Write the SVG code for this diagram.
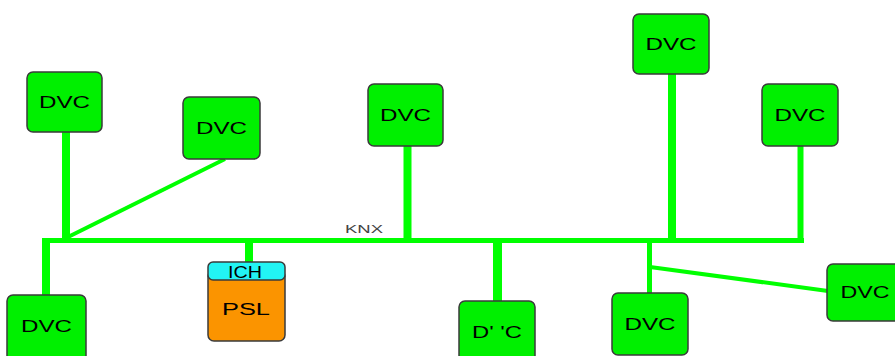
<svg xmlns="http://www.w3.org/2000/svg" width="895" height="356" viewBox="0 0 895 356">
  <style>
    .bus { stroke: #00ff00; fill: none; stroke-linecap: butt; }
    .dev rect { fill: #00f000; stroke: #3a3a3a; stroke-width: 1.5; }
    .lbl { font-family: "Liberation Sans", Arial, sans-serif; font-size: 16px; fill: #000; text-anchor: middle; }
    .psu rect.head { fill: #22f4f4; stroke: #3a3a3a; stroke-width: 1.5; }
    .psu rect.body { fill: #fb9400; stroke: #3a3a3a; stroke-width: 1.5; }
    .knx { font-family: "Liberation Sans", Arial, sans-serif; font-size: 10px; fill: #444; text-anchor: middle; }
  </style>

  <!-- KNX bus line and drops -->
  <g id="connectors">
    <line class="bus" x1="42" y1="240.5" x2="804" y2="240.5" stroke-width="5"/>
    <line class="bus" x1="46" y1="238" x2="46" y2="296" stroke-width="8"/>
    <line class="bus" x1="66" y1="132" x2="66" y2="241" stroke-width="8"/>
    <line class="bus" x1="66" y1="238" x2="225" y2="159" stroke-width="4"/>
    <line class="bus" x1="407.5" y1="146" x2="407.5" y2="241" stroke-width="8"/>
    <line class="bus" x1="672" y1="74" x2="672" y2="241" stroke-width="8"/>
    <line class="bus" x1="800.5" y1="146" x2="800.5" y2="243" stroke-width="6"/>
    <line class="bus" x1="249" y1="240" x2="249" y2="262" stroke-width="8"/>
    <line class="bus" x1="497.5" y1="240" x2="497.5" y2="302" stroke-width="9"/>
    <line class="bus" x1="649.5" y1="240" x2="649.5" y2="294" stroke-width="5"/>
    <line class="bus" x1="650" y1="267" x2="828" y2="291" stroke-width="4"/>
    <text class="knx" x="364" y="233" textLength="38" lengthAdjust="spacingAndGlyphs">KNX</text>
  </g>

  <g id="dvc-top-left" class="dev">
    <rect x="27" y="72" width="75" height="60" rx="6"/>
    <text class="lbl" x="64.5" y="108" textLength="51" lengthAdjust="spacingAndGlyphs">DVC</text>
  </g>
  <g id="dvc-diag" class="dev">
    <rect x="183" y="97" width="77" height="62" rx="6"/>
    <text class="lbl" x="221.5" y="134" textLength="51" lengthAdjust="spacingAndGlyphs">DVC</text>
  </g>
  <g id="dvc-mid" class="dev">
    <rect x="368" y="84" width="75" height="62" rx="6"/>
    <text class="lbl" x="405.5" y="121" textLength="51" lengthAdjust="spacingAndGlyphs">DVC</text>
  </g>
  <g id="dvc-top" class="dev">
    <rect x="633" y="14" width="76" height="60" rx="6"/>
    <text class="lbl" x="671" y="50" textLength="51" lengthAdjust="spacingAndGlyphs">DVC</text>
  </g>
  <g id="dvc-right" class="dev">
    <rect x="762" y="84" width="76" height="62" rx="6"/>
    <text class="lbl" x="800" y="121" textLength="51" lengthAdjust="spacingAndGlyphs">DVC</text>
  </g>
  <g id="dvc-bottom-left" class="dev">
    <rect x="7" y="295" width="79" height="70" rx="6"/>
    <text class="lbl" x="46.5" y="332" textLength="51" lengthAdjust="spacingAndGlyphs">DVC</text>
  </g>
  <g id="psu" class="psu">
    <rect class="body" x="208" y="270" width="77" height="71" rx="6"/>
    <rect class="head" x="208" y="262" width="77" height="18" rx="5"/>
    <text class="lbl" x="245" y="278" font-size="12" textLength="34" lengthAdjust="spacingAndGlyphs">ICH</text>
    <text class="lbl" x="246" y="315" textLength="48" lengthAdjust="spacingAndGlyphs">PSL</text>
  </g>
  <g id="dvc-bottom-mid" class="dev">
    <rect x="459" y="301" width="76" height="70" rx="6"/>
    <text class="lbl" x="497" y="338" textLength="50" lengthAdjust="spacingAndGlyphs">D' 'C</text>
  </g>
  <g id="dvc-bottom" class="dev">
    <rect x="612" y="293" width="76" height="62" rx="6"/>
    <text class="lbl" x="650" y="330" textLength="51" lengthAdjust="spacingAndGlyphs">DVC</text>
  </g>
  <g id="dvc-bottom-right" class="dev">
    <rect x="827" y="264" width="76" height="57" rx="6"/>
    <text class="lbl" x="865" y="298" textLength="49" lengthAdjust="spacingAndGlyphs">DVC</text>
  </g>
</svg>
